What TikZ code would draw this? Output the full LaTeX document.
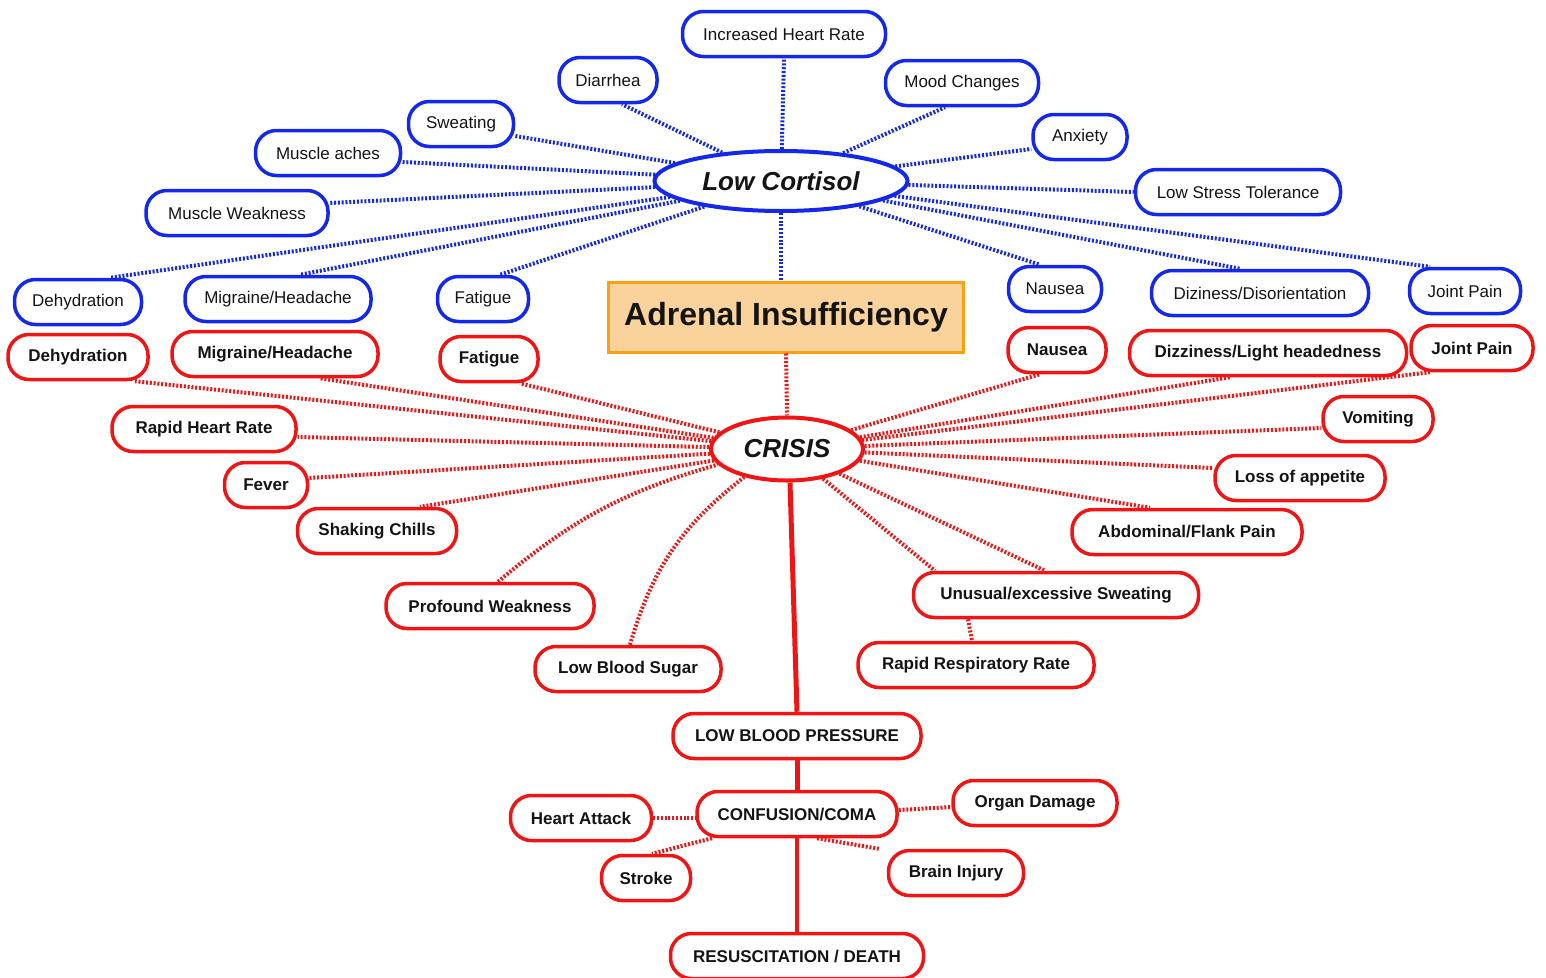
\documentclass[tikz,border=0pt]{standalone}
\usepackage{fontspec}
\setmainfont{Liberation Sans}
\usetikzlibrary{shapes.geometric,calc}
\definecolor{mblue}{RGB}{20,40,235}
\definecolor{mred}{RGB}{240,20,20}
\definecolor{morange}{RGB}{250,160,20}
\definecolor{mfill}{RGB}{249,211,155}
\definecolor{mtext}{RGB}{20,20,20}
\tikzset{
  bnode/.style={draw=mblue, line width=3.5pt, rounded corners=21pt, fill=white,
    minimum height=45pt, inner sep=0pt, text=mtext, font=\fontsize{17}{20}\selectfont},
  rnode/.style={draw=mred, line width=3.5pt, rounded corners=21pt, fill=white,
    minimum height=45pt, inner sep=0pt, text=mtext, font=\fontsize{17}{20}\selectfont\bfseries},
  bline/.style={draw=mblue, line width=4pt, dash pattern=on 2pt off 1.8pt},
  rline/.style={draw=mred, line width=4pt, dash pattern=on 2pt off 1.8pt},
  rsolid/.style={draw=mred, line width=5pt},
  hub/.style={ellipse, line width=4pt, fill=white, inner sep=0pt, text=mtext,
    font=\fontsize{26}{30}\selectfont\bfseries\itshape},
}
\begin{document}
\begin{tikzpicture}[x=1pt,y=-1pt]
\useasboundingbox (0,0) rectangle (1546,977);
% ---- blue nodes
\node[hub, draw=mblue, minimum width=253pt, minimum height=60pt] (lc) at (781,181) {Low Cortisol};
\node[bnode, minimum width=203pt] (ihr) at (784,34) {Increased Heart Rate};
\node[bnode, minimum width=98pt] (dia) at (608,80) {Diarrhea};
\node[bnode, minimum width=153pt] (mood) at (962,83) {Mood Changes};
\node[bnode, minimum width=105pt] (sweat) at (461,124) {Sweating};
\node[bnode, minimum width=94pt] (anx) at (1080,137) {Anxiety};
\node[bnode, minimum width=145pt] (mach) at (328,153) {Muscle aches};
\node[bnode, minimum width=205pt] (lst) at (1238,192) {Low Stress Tolerance};
\node[bnode, minimum width=182pt] (mw) at (237,213) {Muscle Weakness};
\node[bnode, minimum width=127pt] (bdehy) at (78,302) {Dehydration};
\node[bnode, minimum width=186pt] (bmig) at (278,299) {Migraine/Headache};
\node[bnode, minimum width=91pt] (bfat) at (483,299) {Fatigue};
\node[bnode, minimum width=93pt] (bnau) at (1055,289) {Nausea};
\node[bnode, minimum width=217pt] (bdiz) at (1260,293) {Diziness/Disorientation};
\node[bnode, minimum width=111pt] (bjp) at (1465,291) {Joint Pain};
% ---- centre box
\node[draw=morange, fill=mfill, line width=3pt, minimum width=355pt, minimum height=70pt,
  inner sep=0pt, text=mtext, font=\fontsize{32}{36}\selectfont\bfseries] (ai) at (786,317) {Adrenal Insufficiency};
% ---- red nodes
\node[hub, draw=mred, minimum width=152pt, minimum height=63pt] (crisis) at (787,449) {CRISIS};
\node[rnode, minimum width=140pt] (rdehy) at (78,357) {Dehydration};
\node[rnode, minimum width=206pt] (rmig) at (275,354) {Migraine/Headache};
\node[rnode, minimum width=98pt] (rfat) at (489,359) {Fatigue};
\node[rnode, minimum width=98pt] (rnau) at (1057,350) {Nausea};
\node[rnode, minimum width=277pt] (rdiz) at (1268,353) {Dizziness/Light headedness};
\node[rnode, minimum width=122pt] (rjp) at (1472,348) {Joint Pain};
\node[rnode, minimum width=184pt] (rhr) at (204,429) {Rapid Heart Rate};
\node[rnode, minimum width=110pt] (vom) at (1378,419) {Vomiting};
\node[rnode, minimum width=83pt] (fever) at (266,485) {Fever};
\node[rnode, minimum width=170pt] (loa) at (1300,478) {Loss of appetite};
\node[rnode, minimum width=159pt] (shake) at (377,531) {Shaking Chills};
\node[rnode, minimum width=230pt] (abd) at (1187,532) {Abdominal/Flank Pain};
\node[rnode, minimum width=208pt] (pw) at (490,606) {Profound Weakness};
\node[rnode, minimum width=285pt] (uns) at (1056,595) {Unusual/excessive Sweating};
\node[rnode, minimum width=186pt] (lbs) at (628,669) {Low Blood Sugar};
\node[rnode, minimum width=236pt] (rrr) at (976,665) {Rapid Respiratory Rate};
\node[rnode, minimum width=248pt] (lbp) at (797,736) {LOW BLOOD PRESSURE};
\node[rnode, minimum width=200pt] (cc) at (797,814) {CONFUSION/COMA};
\node[rnode, minimum width=141pt] (ha) at (581,818) {Heart Attack};
\node[rnode, minimum width=164pt] (od) at (1035,803) {Organ Damage};
\node[rnode, minimum width=89pt] (stroke) at (646,878) {Stroke};
\node[rnode, minimum width=135pt] (brain) at (956,873) {Brain Injury};
\node[rnode, minimum width=253pt] (rd) at (797,956) {RESUSCITATION / DEATH};
% ---- blue connectors
\draw[bline] (lc) -- (ihr.south);
\draw[bline] (lc) -- ([xshift=14pt]dia.south);
\draw[bline] (lc) -- ([xshift=-17pt]mood.south);
\draw[bline] (lc) -- ([yshift=-12pt]sweat.east);
\draw[bline] (lc) -- ([yshift=-12pt]anx.west);
\draw[bline] (lc) -- ([yshift=-9pt]mach.east);
\draw[bline] (lc) -- (lst.west);
\draw[bline] (lc) -- ([yshift=10pt]mw.east);
\draw[bline] (lc) -- ([xshift=32pt]bdehy.north);
\draw[bline] (lc) -- ([xshift=22pt]bmig.north);
\draw[bline] (lc) -- ([xshift=17pt]bfat.north);
\draw[bline] (lc) -- ([xshift=-15pt]bnau.north);
\draw[bline] (lc) -- ([xshift=-20pt]bdiz.north);
\draw[bline] (lc) -- ([xshift=-35pt]bjp.north);
\draw[bline] (lc.south) -- (lc.south |- ai.north);
% ---- red connectors
\draw[rline] (ai.south) -- (crisis.north);
\draw[rline] (crisis) -- ([xshift=57pt]rdehy.south);
\draw[rline] (crisis) -- ([xshift=45pt]rmig.south);
\draw[rline] (crisis) -- ([xshift=31pt]rfat.south);
\draw[rline] (crisis) -- ([yshift=-8pt]rhr.east);
\draw[rline] (crisis) -- ([yshift=7pt]fever.east);
\draw[rline] (crisis) -- ([xshift=43pt]shake.north);
\draw[rline] ([xshift=8pt]pw.north) to[bend left=12] (crisis);
\draw[rline] ([xshift=2pt]lbs.north) to[bend left=18] (crisis);
\draw[rline] (crisis) -- ([xshift=-17pt]rnau.south);
\draw[rline] (crisis) -- ([xshift=-38pt]rdiz.south);
\draw[rline] (crisis) -- ([xshift=-42pt]rjp.south);
\draw[rline] (crisis) -- ([yshift=-9pt]vom.west);
\draw[rline] (crisis) -- ([yshift=10pt]loa.west);
\draw[rline] (crisis) -- ([xshift=-37pt]abd.north);
\draw[rline] (crisis) -- ([xshift=-121pt]uns.north);
\draw[rline] (crisis) -- ([xshift=-11pt]uns.north);
\draw[rline] ([xshift=-88pt]uns.south) -- ([xshift=-4pt]rrr.north);
\draw[rsolid] ([xshift=3pt]crisis.south) -- (lbp.north);
\draw[rsolid] (lbp.south) -- (cc.north);
\draw[draw=mred, line width=3.5pt] (cc.south) -- (rd.north);
\draw[rline] (ha.east) -- (ha.east -| cc.west);
\draw[rline] ([yshift=4pt]cc.east) -- ([yshift=-4pt]od.west);
\draw[rline] ([xshift=-85pt]cc.south) -- ([xshift=6pt]stroke.north);
\draw[rline] ([xshift=20pt]cc.south) -- ([xshift=-8pt]brain.north west);
\end{tikzpicture}
\end{document}
